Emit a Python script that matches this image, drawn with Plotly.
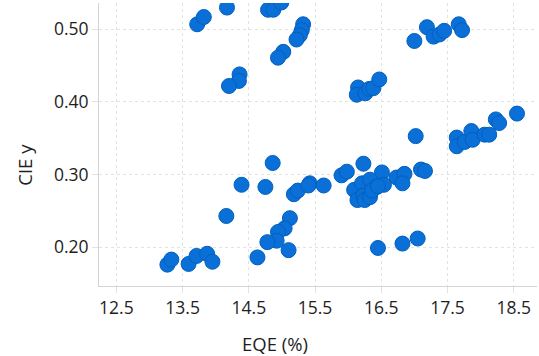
import plotly.graph_objects as go

# EQE (%) values
eqe = [
    13.72, 13.82, 14.17, 14.79, 14.87, 14.99, 15.32, 15.30, 15.27, 15.22,
    15.02, 14.94, 14.36, 14.35, 14.20, 16.15, 16.13, 16.26, 16.32, 16.38,
    16.47, 17.00, 17.19, 17.29, 17.38, 17.45, 17.67, 17.72,
    14.86, 14.39, 14.75, 15.18, 15.24, 15.42, 15.40, 15.63, 14.16, 15.12,
    15.04, 14.94, 14.92, 14.78, 15.10, 14.63, 13.27, 13.33, 13.59, 13.71,
    13.87, 13.95,
    15.90, 15.98, 16.23, 16.51, 16.73, 16.85, 16.82, 17.10, 17.16, 16.09,
    16.21, 16.33, 16.43, 16.54, 16.14, 16.23, 16.25, 16.33, 16.36, 16.45,
    17.02, 17.64, 17.64, 17.76, 17.86, 17.88, 18.06, 18.13, 18.23, 18.28,
    18.55, 16.45, 16.82, 17.05,
]
# CIE y values
cie_y = [
    0.507, 0.517, 0.530, 0.527, 0.527, 0.537, 0.507, 0.499, 0.492, 0.486,
    0.469, 0.461, 0.438, 0.429, 0.422, 0.420, 0.410, 0.412, 0.418, 0.419,
    0.431, 0.484, 0.503, 0.490, 0.493, 0.498, 0.507, 0.499,
    0.316, 0.286, 0.283, 0.273, 0.278, 0.288, 0.285, 0.285, 0.243, 0.240,
    0.226, 0.221, 0.209, 0.207, 0.196, 0.186, 0.176, 0.183, 0.177, 0.188,
    0.191, 0.180,
    0.299, 0.304, 0.315, 0.303, 0.296, 0.301, 0.288, 0.307, 0.305, 0.279,
    0.288, 0.293, 0.283, 0.286, 0.265, 0.271, 0.265, 0.269, 0.278, 0.284,
    0.353, 0.351, 0.339, 0.345, 0.360, 0.348, 0.355, 0.355, 0.376, 0.371,
    0.384, 0.199, 0.205, 0.212,
]

x_ticks = [12.5, 13.5, 14.5, 15.5, 16.5, 17.5, 18.5]
y_ticks = [0.20, 0.30, 0.40, 0.50]
x_title = "EQE (%)"
y_title = "CIE y"

fig = go.Figure(go.Scatter(
    x=eqe, y=cie_y, mode="markers",
    marker=dict(size=15, color="#0a70d8", line=dict(color="#0060bf", width=1)),
    showlegend=False, cliponaxis=True,
))

font = dict(family="Open Sans, Noto Sans, sans-serif", size=17, color="#1e1e1e")
fig.update_layout(
    width=539, height=356,
    margin=dict(l=99, r=2, t=3, b=70, autoexpand=False),
    paper_bgcolor="white", plot_bgcolor="white",
    font=font,
)
axis_common = dict(
    showgrid=True, gridcolor="#e2e2e2", griddash="dot", gridwidth=1,
    showline=True, linecolor="#d4d4d4", linewidth=1,
    ticks="outside", ticklen=6, tickcolor="#e2e2e2",
    zeroline=False, tickfont=dict(size=17.5), automargin=False,
)
fig.update_xaxes(
    range=[12.237, 18.852], tickvals=x_ticks, ticktext=[f"{v:.1f}" for v in x_ticks],
    **axis_common,
)
fig.update_yaxes(
    range=[0.1466, 0.5363], tickvals=y_ticks, ticktext=[f"{v:.2f}" for v in y_ticks],
    **axis_common,
)
fig.add_annotation(
    text=x_title, xref="paper", yref="paper", x=0.401, y=-0.203,
    xanchor="center", yanchor="middle", showarrow=False, font=dict(size=18.5),
)
fig.add_annotation(
    text=y_title, xref="paper", yref="paper", x=-0.170, y=0.427, textangle=-90,
    xanchor="center", yanchor="middle", showarrow=False, font=dict(size=18.5),
)

fig.write_html(
    "out.html",
    config={"displayModeBar": False},
    post_script="document.body.style.margin='0';document.body.style.overflow='hidden';",
)
